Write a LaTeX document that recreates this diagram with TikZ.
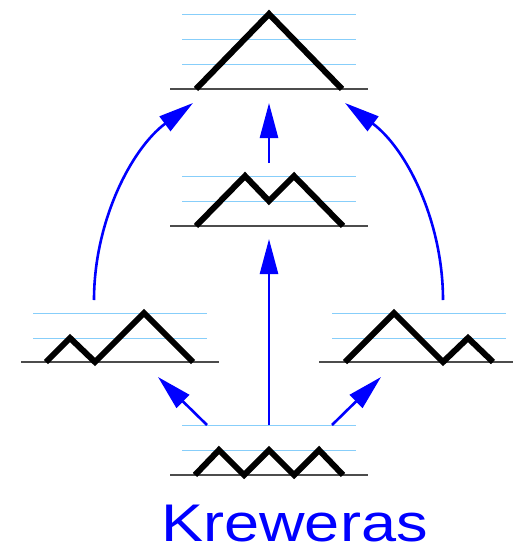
\documentclass[tikz,border=0pt]{standalone}
\usepackage{fontspec}
\setmainfont{Liberation Sans}
\usetikzlibrary{arrows.meta}
\definecolor{lvlblue}{RGB}{135,206,250}

\begin{document}
\begin{tikzpicture}[x=1pt,y=-1pt,>={Triangle[length=35pt,width=18pt]},
  lvl/.style={draw=lvlblue,line width=1pt},
  gnd/.style={draw=black!70,line width=1.2pt},
  dyck/.style={draw=black,line width=6pt,line join=miter},
  arr/.style={->,draw=blue,line width=2.6pt}]
\useasboundingbox (0,0) rectangle (515,554);
% top: UUUDDD
\draw[lvl] (182,14)--(356,14) (182,39)--(356,39) (182,64)--(356,64);
\draw[gnd] (170,89)--(368,89);
\draw[dyck] (196,89)--(269,14)--(342,89);
% middle: UUDUDD
\draw[lvl] (182,176)--(356,176) (182,201)--(356,201);
\draw[gnd] (170,226)--(368,226);
\draw[dyck] (196,226)--(245,176)--(269,201)--(294,176)--(343,226);
% left: UDUUDD
\draw[lvl] (33,313)--(207,313) (33,338)--(207,338);
\draw[gnd] (21,362)--(219,362);
\draw[dyck] (46,362)--(70,338)--(95,362)--(144,313)--(193,362);
% right: UUDDUD
\draw[lvl] (332,313)--(506,313) (332,338)--(506,338);
\draw[gnd] (319,362)--(513,362);
\draw[dyck] (345,362)--(394,313)--(443,362)--(468,338)--(493,362);
% bottom: UDUDUD
\draw[lvl] (182,425)--(356,425) (182,450)--(356,450);
\draw[gnd] (170,475)--(368,475);
\draw[dyck] (195,475)--(219,450)--(244,475)--(269,450)--(294,475)--(319,450)--(343,475);
% arrow ends
\coordinate (bot_l) at (207,425);
\coordinate (bot_m) at (269,425);
\coordinate (bot_r) at (332,425);
\coordinate (left_in) at (158,377);
\coordinate (mid_in) at (269,239);
\coordinate (right_in) at (381,377);
\coordinate (mid_out) at (269,163);
\coordinate (left_out) at (94,300);
\coordinate (right_out) at (443,300);
\coordinate (top_l) at (193,103);
\coordinate (top_m) at (269,103);
\coordinate (top_r) at (345,103);
\draw[arr] (bot_l)--(left_in);
\draw[arr] (bot_m)--(mid_in);
\draw[arr] (bot_r)--(right_in);
\draw[arr] (mid_out)--(top_m);
\draw[arr] (left_out) .. controls (94,222) and (131,149) .. (top_l);
\draw[arr] (right_out) .. controls (443,222) and (407,149) .. (top_r);
\node[inner sep=0pt,anchor=base,text=blue,font=\fontsize{53}{60}\selectfont,xscale=1.19,transform shape] (title) at (294.5,541) {Kreweras};
\end{tikzpicture}
\end{document}
